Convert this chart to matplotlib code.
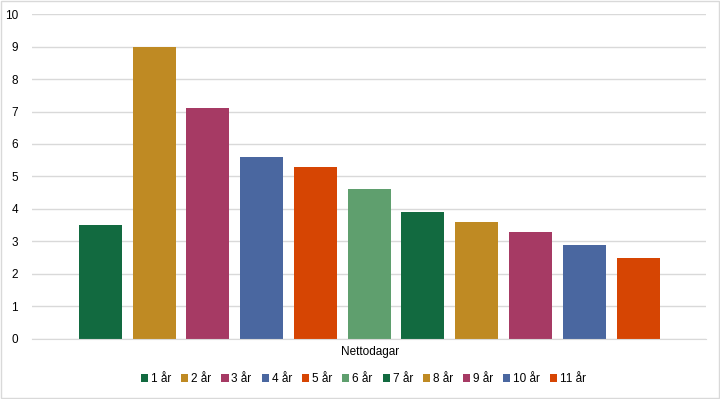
import numpy as np
import matplotlib
matplotlib.use("Agg")
from matplotlib import pyplot as plt
from matplotlib.patches import Patch, Rectangle

plt.rcParams['font.family'] = ['Liberation Sans', 'DejaVu Sans']

labels = ["1 år", "2 år", "3 år", "4 år", "5 år", "6 år", "7 år", "8 år", "9 år", "10 år", "11 år"]
values = [3.5, 9.0, 7.1, 5.6, 5.3, 4.6, 3.9, 3.6, 3.3, 2.9, 2.5]
colors = ["#126a40", "#bf8a23", "#a63a64", "#4a67a0", "#d64503", "#5f9f6e",
          "#126a40", "#bf8a23", "#a63a64", "#4a67a0", "#d64503"]
category = "Nettodagar"

fig = plt.figure(figsize=(7.2, 3.99), dpi=100)
ax = fig.add_axes([0.0444, 0.1504, 0.936, 0.8145])

x = np.arange(len(values))
ax.bar(x, values, width=0.8, color=colors, zorder=2)

ax.set_xlim(-1.27, 11.26)
ax.set_ylim(0, 10)
ax.set_yticks(range(0, 11))
ax.yaxis.grid(True, color="#d9d9d9", lw=1, zorder=0)
ax.set_xticks([])
ax.tick_params(axis='y', length=0, labelsize=8.5, pad=10, colors="#000000")
for s in ["top", "right", "left"]:
    ax.spines[s].set_visible(False)
ax.spines["bottom"].set_color("#d9d9d9")

fig.text(0.514, 0.117, category, ha="center", va="center", fontsize=8.5)

handles = [Patch(facecolor=c, edgecolor="none") for c in colors]
fig.legend(handles, labels, loc="center", bbox_to_anchor=(0.505, 0.05), ncol=11,
           frameon=False, fontsize=8.5, handlelength=0.6, handleheight=0.6,
           handletextpad=0.25, columnspacing=0.85)

fig.patches.append(Rectangle((0.001, 0.002), 0.997, 0.996, transform=fig.transFigure,
                             fill=False, edgecolor="#d9d9d9", lw=1))

fig.savefig("out.png", dpi=100)
